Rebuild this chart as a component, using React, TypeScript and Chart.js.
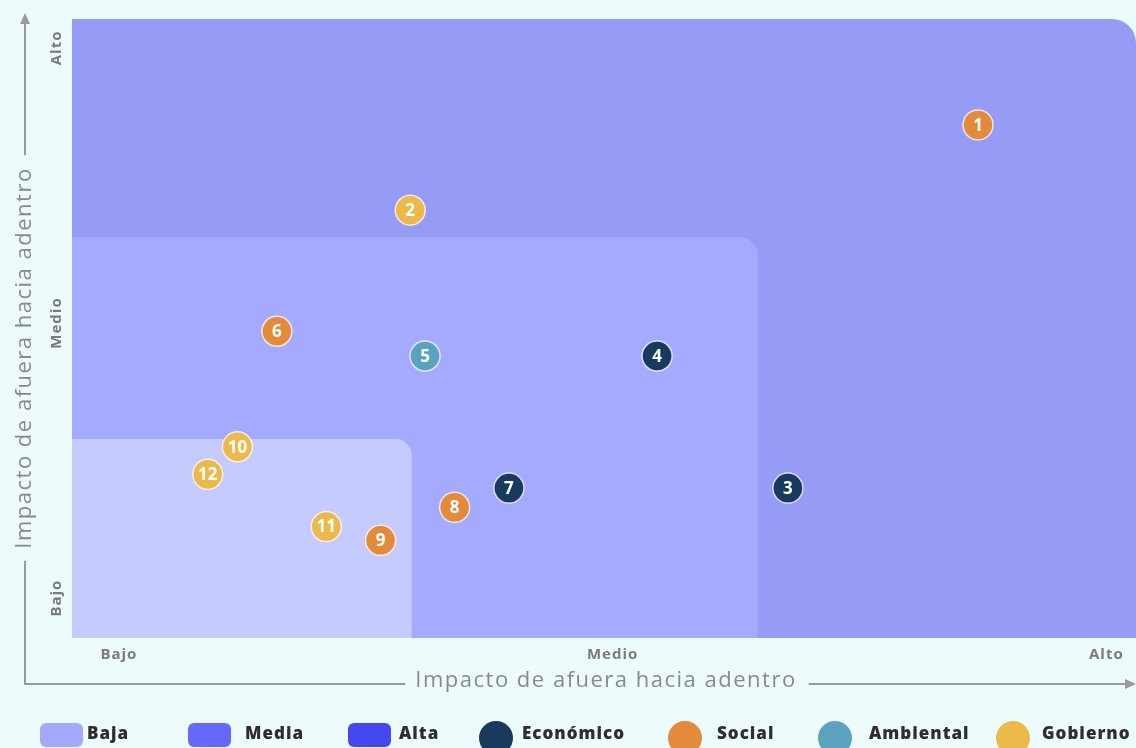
import React, { useEffect, useRef } from "react";
import { Chart, registerables } from "chart.js";

Chart.register(...registerables);

// ---- Data ----
const pointIds = ["1", "2", "3", "4", "5", "6", "7", "8", "9", "10", "11", "12"];
const pointCategories = [
  "Social", "Gobierno", "Económico", "Económico", "Ambiental", "Social",
  "Económico", "Social", "Social", "Gobierno", "Gobierno", "Gobierno",
];
const xValues = [2.74, 1.59, 2.355, 2.09, 1.62, 1.32, 1.79, 1.68, 1.53, 1.24, 1.42, 1.18];
const yValues = [2.72, 2.41, 1.4, 1.88, 1.88, 1.97, 1.4, 1.33, 1.21, 1.55, 1.26, 1.45];

const categoryNames = ["Económico", "Social", "Ambiental", "Gobierno"];
const categoryColors = ["#173a5e", "#e38b3b", "#5ba2be", "#ecba4b"];

const tickValues = [1, 2, 3];
const tickLabels = ["Bajo", "Medio", "Alto"];

const zoneNames = ["Alta", "Media", "Baja"];
const zoneMaxX = [3.06, 2.294, 1.593];
const zoneMaxY = [3.105, 2.312, 1.578];
const zoneColors = ["#969cf5", "#a4aafd", "#c6cbfd"];

const legendZoneNames = ["Baja", "Media", "Alta"];
const legendZoneColors = ["#a5a9fd", "#6468fd", "#4548ee"];

const X_MIN = 0.905;
const X_MAX = 3.06;
const Y_MIN = 0.855;
const Y_MAX = 3.105;

const axisTitle = "Impacto de afuera hacia adentro";
const FONT = "'Open Sans', 'DejaVu Sans', sans-serif";

function arrowHead(ctx: CanvasRenderingContext2D, x: number, y: number, dir: "up" | "right") {
  ctx.beginPath();
  if (dir === "up") {
    ctx.moveTo(x, y);
    ctx.lineTo(x - 5, y + 11);
    ctx.lineTo(x + 5, y + 11);
  } else {
    ctx.moveTo(x, y);
    ctx.lineTo(x - 11, y - 5);
    ctx.lineTo(x - 11, y + 5);
  }
  ctx.closePath();
  ctx.fill();
}

const decorPlugin = {
  id: "decor",
  beforeDatasetsDraw(chart: any) {
    const { ctx, scales } = chart;
    const xs = scales.x;
    const ys = scales.y;
    const radii = [24, 18, 16];
    ctx.save();
    zoneNames.forEach((_, i) => {
      const x0 = xs.getPixelForValue(X_MIN);
      const x1 = xs.getPixelForValue(zoneMaxX[i]);
      const y0 = ys.getPixelForValue(zoneMaxY[i]);
      const y1 = ys.getPixelForValue(Y_MIN);
      ctx.fillStyle = zoneColors[i];
      ctx.beginPath();
      (ctx as any).roundRect(x0, y0, x1 - x0, y1 - y0, [0, radii[i], 0, 0]);
      ctx.fill();
    });
    ctx.restore();
  },
  afterDatasetsDraw(chart: any) {
    const { ctx } = chart;
    ctx.save();
    ctx.fillStyle = "#ffffff";
    ctx.textAlign = "center";
    ctx.textBaseline = "middle";
    ctx.font = `700 17px ${FONT}`;
    chart.data.datasets.forEach((ds: any, di: number) => {
      const meta = chart.getDatasetMeta(di);
      meta.data.forEach((el: any, i: number) => {
        ctx.fillText(ds.data[i].id, el.x, el.y + 1);
      });
    });
    ctx.restore();
  },
  afterDraw(chart: any) {
    const { ctx, scales, chartArea } = chart;
    const xs = scales.x;
    const ys = scales.y;
    ctx.save();
    // tick labels
    ctx.fillStyle = "#7b7b7b";
    ctx.font = `700 15px ${FONT}`;
    (ctx as any).letterSpacing = "1px";
    ctx.textAlign = "center";
    ctx.textBaseline = "middle";
    tickValues.forEach((v, i) => {
      ctx.fillText(tickLabels[i], xs.getPixelForValue(v), chartArea.bottom + 17);
    });
    tickValues.forEach((v, i) => {
      ctx.save();
      ctx.translate(57, ys.getPixelForValue(v));
      ctx.rotate(-Math.PI / 2);
      ctx.fillText(tickLabels[i], 0, 0);
      ctx.restore();
    });
    // axis titles
    ctx.fillStyle = "#8a8a8a";
    ctx.font = `400 22px ${FONT}`;
    (ctx as any).letterSpacing = "1.5px";
    const xTitleCx = 606;
    const xTitleY = 681;
    ctx.fillText(axisTitle, xTitleCx, xTitleY);
    const tw = ctx.measureText(axisTitle).width;
    const yTitleCy = 358;
    ctx.save();
    ctx.translate(25, yTitleCy);
    ctx.rotate(-Math.PI / 2);
    ctx.fillText(axisTitle, 0, 0);
    ctx.restore();
    (ctx as any).letterSpacing = "0px";
    // axis lines
    ctx.strokeStyle = "#9a9a9a";
    ctx.fillStyle = "#9a9a9a";
    ctx.lineWidth = 2;
    ctx.beginPath();
    ctx.moveTo(25, yTitleCy + tw / 2 + 12);
    ctx.lineTo(25, 684);
    ctx.lineTo(xTitleCx - tw / 2 - 10, 684);
    ctx.moveTo(xTitleCx + tw / 2 + 12, 684);
    ctx.lineTo(1128, 684);
    ctx.moveTo(25, yTitleCy - tw / 2 - 12);
    ctx.lineTo(25, 22);
    ctx.stroke();
    arrowHead(ctx, 1136, 684, "right");
    arrowHead(ctx, 25, 13, "up");
    // legend
    const legY = 734;
    ctx.textAlign = "left";
    ctx.font = `800 17px ${FONT}`;
    (ctx as any).letterSpacing = "1px";
    const zoneX = [40, 188, 348];
    const zoneTextX = [87, 245, 399];
    legendZoneNames.forEach((n, i) => {
      ctx.fillStyle = legendZoneColors[i];
      ctx.beginPath();
      (ctx as any).roundRect(zoneX[i], 723, 43, 24, 6);
      ctx.fill();
      ctx.fillStyle = "#2e2e2e";
      ctx.fillText(n, zoneTextX[i], legY);
    });
    const catCx = [496, 685, 835, 1013];
    const catTextX = [522, 717, 869, 1042];
    categoryNames.forEach((n, i) => {
      ctx.fillStyle = categoryColors[i];
      ctx.beginPath();
      ctx.arc(catCx[i], 738, 17, 0, Math.PI * 2);
      ctx.fill();
      ctx.fillStyle = "#2e2e2e";
      ctx.fillText(n, catTextX[i], legY);
    });
    ctx.restore();
  },
};

export default function App() {
  const canvasRef = useRef<HTMLCanvasElement | null>(null);

  useEffect(() => {
    if (!canvasRef.current) return;
    const datasets = categoryNames.map((cat, ci) => ({
      label: cat,
      data: pointIds
        .map((id, i) => ({ x: xValues[i], y: yValues[i], id, cat: pointCategories[i] }))
        .filter((p) => p.cat === cat),
      backgroundColor: categoryColors[ci],
      borderColor: "rgba(255,255,255,0.75)",
      borderWidth: 1.5,
      pointRadius: 15,
      pointHoverRadius: 15,
      clip: false as any,
    }));
    const chart = new Chart(canvasRef.current, {
      type: "scatter",
      data: { datasets },
      options: {
        responsive: false,
        animation: false,
        layout: { autoPadding: false, padding: { left: 72, top: 19, right: 0, bottom: 110 } },
        scales: {
          x: { type: "linear", min: X_MIN, max: X_MAX, display: false },
          y: { type: "linear", min: Y_MIN, max: Y_MAX, display: false },
        },
        plugins: {
          legend: { display: false },
          tooltip: { enabled: false },
        },
        events: [],
      },
      plugins: [decorPlugin],
    });
    return () => chart.destroy();
  }, []);

  return (
    <div
      style={{
        position: "fixed",
        left: 0,
        top: 0,
        width: 1136,
        height: 748,
        background: "#edfbfd",
        overflow: "hidden",
      }}
    >
      <canvas ref={canvasRef} width={1136} height={748} style={{ display: "block" }} />
    </div>
  );
}
